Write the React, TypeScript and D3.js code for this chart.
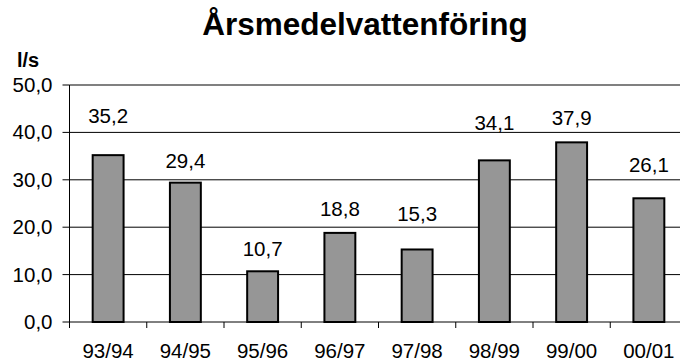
import React from "react";
import * as d3 from "d3";

// Annual mean discharge per hydrological year
const years = ["93/94", "94/95", "95/96", "96/97", "97/98", "98/99", "99/00", "00/01"];
const flows = [35.2, 29.4, 10.7, 18.8, 15.3, 34.1, 37.9, 26.1];
const yTicks = [0, 10, 20, 30, 40, 50];

// How far above each bar its value label sits (px)
const labelLift = [32, 15, 15, 17, 28, 30, 17, 26];

const W = 680;
const H = 364;
const left = 69.5;
const top = 85;
const bottom = 322;
const plotRight = 687.5;

const FONT = "'Liberation Sans', Arial, Helvetica, sans-serif";
const fmt = (v: number) => v.toFixed(1).replace(".", ",");

export default function App() {
  const x = d3.scaleBand<string>().domain(years).range([left, plotRight]).padding(0);
  const y = d3.scaleLinear().domain([0, 50]).range([bottom, top]);
  const bw = x.bandwidth() * 0.4;
  const fs = 20.5;

  const Txt = ({ x0, y0, anchor, children }: any) => (
    <text x={x0} y={y0} textAnchor={anchor} fontSize={fs} fontFamily={FONT} fill="#000">
      {children}
    </text>
  );

  return (
    <svg width={W} height={H} style={{ position: "absolute", left: 0, top: 0, background: "#fff" }}>
      <rect width={W} height={H} fill="#fff" />
      <text x={365} y={35} textAnchor="middle" fontSize={31.5} fontWeight="bold" fontFamily={FONT}>
        Årsmedelvattenföring
      </text>
      <text x={17} y={67} fontSize={20} fontWeight="bold" fontFamily={FONT}>
        l/s
      </text>

      {/* gridlines */}
      {yTicks.filter((t) => t > 0 && t < 50).map((t) => (
        <line key={t} x1={left} x2={W} y1={y(t)} y2={y(t)} stroke="#000" strokeWidth={1} />
      ))}
      <line x1={left} x2={W} y1={y(50)} y2={y(50)} stroke="#808080" strokeWidth={2} />

      {/* bars */}
      {flows.map((v, i) => {
        const cx = (x(years[i]) as number) + x.bandwidth() / 2;
        return (
          <g key={years[i]}>
            <rect
              x={cx - bw / 2}
              y={y(v)}
              width={bw}
              height={y(0) - y(v)}
              fill="#969696"
              stroke="#000"
              strokeWidth={2}
            />
            <Txt x0={cx} y0={y(v) - labelLift[i]} anchor="middle">
              {fmt(v)}
            </Txt>
          </g>
        );
      })}

      {/* y axis */}
      <line x1={left} x2={left} y1={top} y2={bottom} stroke="#000" strokeWidth={1} />
      {yTicks.map((t) => (
        <g key={t}>
          <line x1={left - 7} x2={left} y1={y(t)} y2={y(t)} stroke="#000" strokeWidth={1} />
          <Txt x0={52.5} y0={y(t) + 7} anchor="end">
            {fmt(t)}
          </Txt>
        </g>
      ))}

      {/* x axis */}
      <line x1={left} x2={W} y1={bottom} y2={bottom} stroke="#000" strokeWidth={1} />
      {years.map((c) => (
        <line
          key={c}
          x1={x(c) as number}
          x2={x(c) as number}
          y1={bottom}
          y2={bottom + 6}
          stroke="#000"
          strokeWidth={1}
        />
      ))}
      {years.map((c) => (
        <Txt key={c} x0={(x(c) as number) + x.bandwidth() / 2} y0={358} anchor="middle">
          {c}
        </Txt>
      ))}
    </svg>
  );
}
